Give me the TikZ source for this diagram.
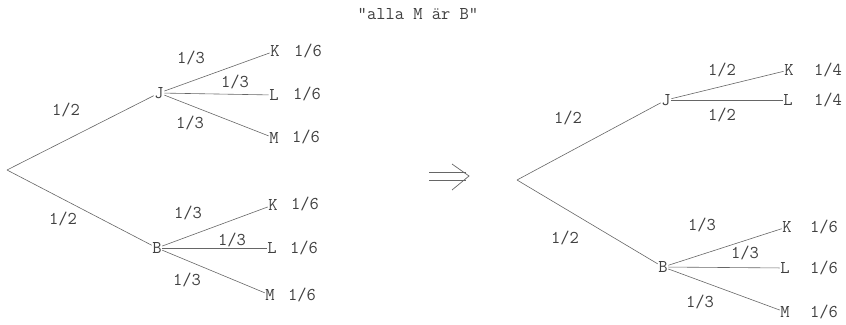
\documentclass[tikz,border=0pt]{standalone}
\usepackage{fontspec}
\begin{document}
\begin{tikzpicture}[x=1pt,y=-1pt,
  txt/.style={font=\ttfamily\fontsize{18}{20}\selectfont, text=black!75, inner sep=0.5pt},
  br/.style={draw=black!60, line width=0.6pt},
  lab/.style={txt}]
\useasboundingbox (0,0) rectangle (846,324);
% title
\node[txt, font=\ttfamily\fontsize{18}{20}\selectfont] (title) at (418,14) {"alla M är B"};

% ---------- left tree ----------
\coordinate (r1) at (7,170);
\node[txt] (J1) at (159,93) {J};
\node[txt] (B1) at (157,248) {B};
\node[txt] (K1) at (275,51) {K};
\node[txt] (L1) at (274,95) {L};
\node[txt] (M1) at (274,138) {M};
\node[txt] (K2) at (273,205) {K};
\node[txt] (L2) at (272,248) {L};
\node[txt] (M2) at (270,295) {M};
\draw[br] (r1) -- (J1);
\draw[br] (r1) -- (B1);
\draw[br] (J1) -- (K1);
\draw[br] (J1) -- (L1);
\draw[br] (J1) -- (M1);
\draw[br] (B1) -- (K2);
\draw[br] (B1) -- (L2);
\draw[br] (B1) -- (M2);
\node[lab] (p1) at (66,110) {1/2};
\node[lab] (p2) at (63,219) {1/2};
\node[lab] (p3) at (191,58) {1/3};
\node[lab] (p4) at (235,82) {1/3};
\node[lab] (p5) at (190,123) {1/3};
\node[lab] (p6) at (188,213) {1/3};
\node[lab] (p7) at (232,240) {1/3};
\node[lab] (p8) at (187,280) {1/3};
\node[lab] (q1) at (308,51) {1/6};
\node[lab] (q2) at (307,94) {1/6};
\node[lab] (q3) at (306,137) {1/6};
\node[lab] (q4) at (305,204) {1/6};
\node[lab] (q5) at (304,248) {1/6};
\node[lab] (q6) at (302,295) {1/6};

% ---------- implication arrow ----------
\draw[br, line width=0.7pt] (429,172) -- (466,172);
\draw[br, line width=0.7pt] (429,180) -- (466,180);
\draw[br, line width=0.7pt] (452,164) -- (469,176) -- (452,190);

% ---------- right tree ----------
\coordinate (r2) at (517,180);
\node[txt] (J2) at (666,100) {J};
\node[txt] (B2) at (663,267) {B};
\node[txt] (K3) at (789,70) {K};
\node[txt] (L3) at (788,100) {L};
\node[txt] (K4) at (787,227) {K};
\node[txt] (L4) at (785,268) {L};
\node[txt] (M4) at (785,312) {M};
\draw[br] (r2) -- (J2);
\draw[br] (r2) -- (B2);
\draw[br] (J2) -- (K3);
\draw[br] (J2) -- (L3);
\draw[br] (B2) -- (K4);
\draw[br] (B2) -- (L4);
\draw[br] (B2) -- (M4);
\node[lab] (s1) at (568,118) {1/2};
\node[lab] (s2) at (565,238) {1/2};
\node[lab] (s3) at (722,70) {1/2};
\node[lab] (s4) at (722,115) {1/2};
\node[lab] (s5) at (702,225) {1/3};
\node[lab] (s6) at (745,253) {1/3};
\node[lab] (s7) at (700,302) {1/3};
\node[lab] (t1) at (828,70) {1/4};
\node[lab] (t2) at (828,100) {1/4};
\node[lab] (t3) at (824,227) {1/6};
\node[lab] (t4) at (824,268) {1/6};
\node[lab] (t5) at (824,312) {1/6};
\end{tikzpicture}
\end{document}
